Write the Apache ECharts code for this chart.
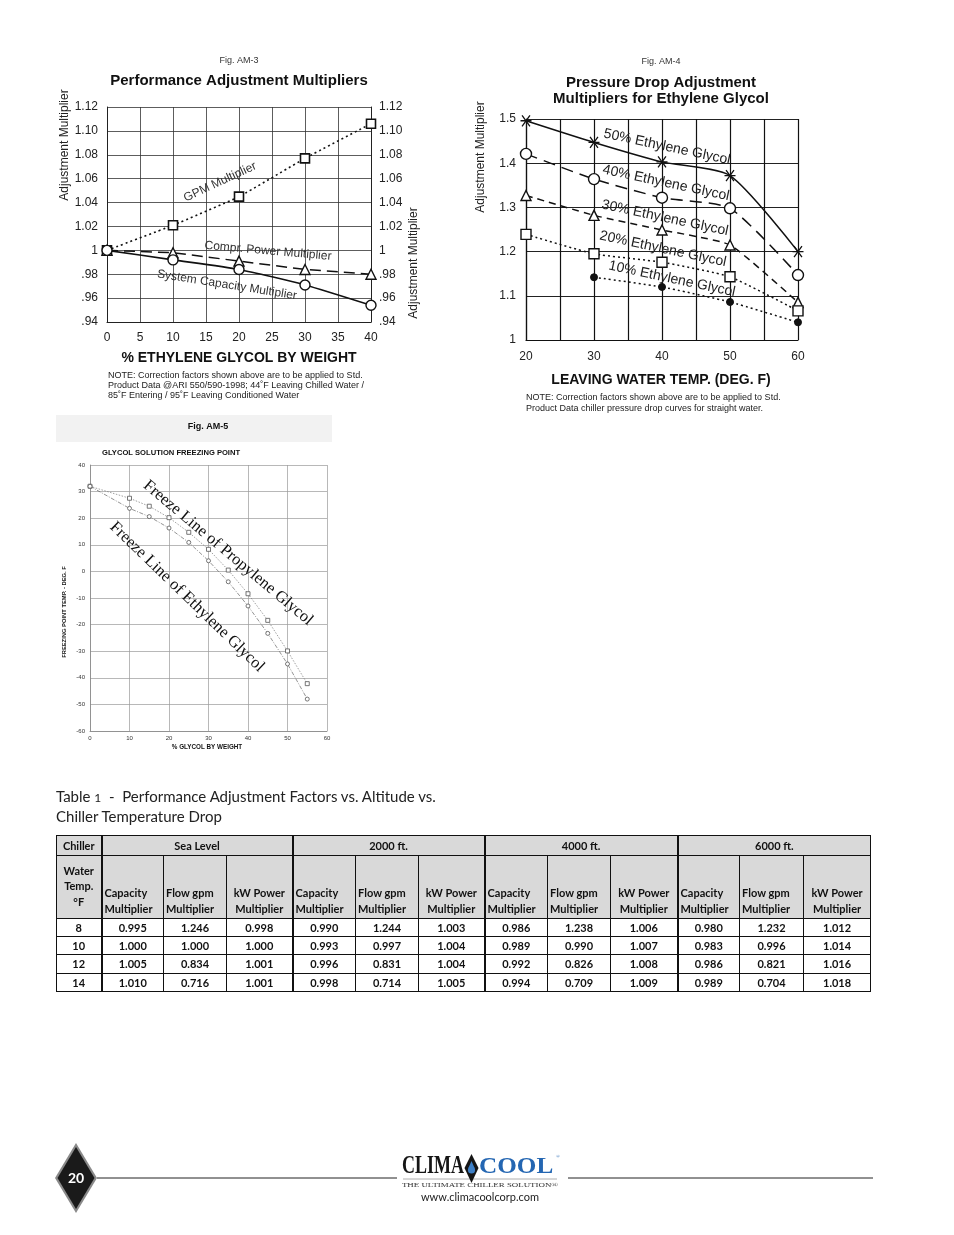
<!DOCTYPE html>
<html><head><meta charset="utf-8">
<script src="https://cdn.jsdelivr.net/npm/echarts@6/dist/echarts.min.js"></script>
<style>
html,body{margin:0;padding:0;background:#fff;}
#chart{position:absolute;left:0;top:0;width:954px;height:1235px;}
#cap{position:absolute;left:56px;top:787px;font-family:Lato,'Open Sans',sans-serif;font-size:15px;line-height:19px;color:#222;}
#cap .n{font-size:12px;}
#tbl{position:absolute;left:56px;top:835px;width:814px;border-collapse:collapse;table-layout:fixed;font-family:Lato,'Open Sans',sans-serif;font-weight:bold;font-size:11px;color:#111;border:1.5px solid #111;}
#tbl td{border:1px solid #111;padding:0 2px;overflow:hidden;white-space:nowrap;}
#tbl tr.h td{background:#d9d9d9;}
#tbl tr.h1 td{height:19px;text-align:center;vertical-align:middle;}
#tbl tr.h2 td{height:60px;vertical-align:bottom;line-height:15.5px;padding-bottom:2px;}
#tbl tr.h2 td.l{text-align:left;}
#tbl tr.h2 td.c{text-align:center;}
#tbl tr.h2 td.w{text-align:center;vertical-align:middle;}
#tbl tr.d td{height:17.2px;text-align:center;vertical-align:middle;background:#fff;}
#tbl td.g{border-left:2px solid #111;}
</style></head>
<body>
<div id="chart"></div>
<div id="cap">Table <span class="n">1</span>&nbsp; -&nbsp; Performance Adjustment Factors vs. Altitude vs.<br>Chiller Temperature Drop</div>
<table id="tbl"></table>
<script>
// ---------- Fig. AM-3 data ----------
const am3X = [0, 10, 20, 30, 40];
const am3Gpm = [1.000, 1.021, 1.045, 1.077, 1.106];
const am3Power = [1.000, 0.998, 0.991, 0.984, 0.980];
const am3Capacity = [1.000, 0.992, 0.984, 0.971, 0.954];
const am3YTicks = ['.94', '.96', '.98', '1', '1.02', '1.04', '1.06', '1.08', '1.10', '1.12'];

// ---------- Fig. AM-4 data ----------
const am4X = [20, 30, 40, 50, 60];
const am4G50 = [1.496, 1.447, 1.403, 1.372, 1.200];
const am4G40 = [1.421, 1.364, 1.322, 1.298, 1.147];
const am4G30 = [1.327, 1.282, 1.249, 1.215, 1.085];
const am4G20 = [1.239, 1.195, 1.176, 1.143, 1.066];
const am4G10X = [30, 40, 50, 60];
const am4G10 = [1.142, 1.120, 1.086, 1.040];
const am4YTicks = ['1', '1.1', '1.2', '1.3', '1.4', '1.5'];
const am4XTicks = ['20', '30', '40', '50', '60'];

// ---------- Fig. AM-5 data ----------
const am5X = [0, 10, 15, 20, 25, 30, 35, 40, 45, 50, 55];
const am5Propylene = [32, 27.5, 24.5, 20.2, 14.7, 8.3, 0.5, -8.4, -18.4, -29.9, -42.2];
const am5Ethylene = [32, 23.7, 20.6, 16.3, 10.9, 4.0, -3.9, -13, -23.3, -34.8, -48];

// ---------- Table 1 data ----------
const tblGroups = ['Sea Level', '2000 ft.', '4000 ft.', '6000 ft.'];
const tblSubHeads = [['Capacity', 'Multiplier'], ['Flow gpm', 'Multiplier'], ['kW Power', 'Multiplier']];
const tblTemps = [8, 10, 12, 14];
const tblSea = [[0.995, 1.246, 0.998], [1.000, 1.000, 1.000], [1.005, 0.834, 1.001], [1.010, 0.716, 1.001]];
const tbl2000 = [[0.990, 1.244, 1.003], [0.993, 0.997, 1.004], [0.996, 0.831, 1.004], [0.998, 0.714, 1.005]];
const tbl4000 = [[0.986, 1.238, 1.006], [0.989, 0.990, 1.007], [0.992, 0.826, 1.008], [0.994, 0.709, 1.009]];
const tbl6000 = [[0.980, 1.232, 1.012], [0.983, 0.996, 1.014], [0.986, 0.821, 1.016], [0.989, 0.704, 1.018]];

// ---------- build table ----------
(function () {
  const widths = [45, 62, 63, 66, 63, 63, 66, 63, 63, 67, 62, 64, 67];
  let h = '<colgroup>' + widths.map(w => '<col style="width:' + w + 'px">').join('') + '</colgroup>';
  h += '<tr class="h h1"><td>Chiller</td>' + tblGroups.map(g => '<td class="g" colspan="3">' + g + '</td>').join('') + '</tr>';
  h += '<tr class="h h2"><td class="w">Water<br>Temp.<br>°F</td>';
  tblGroups.forEach(() => {
    tblSubHeads.forEach((s, j) => {
      h += '<td class="' + (j === 0 ? 'g ' : '') + (j === 2 ? 'c' : 'l') + '">' + s[0] + '<br>' + s[1] + '</td>';
    });
  });
  h += '</tr>';
  const groups = [tblSea, tbl2000, tbl4000, tbl6000];
  tblTemps.forEach((t, i) => {
    h += '<tr class="d"><td>' + t + '</td>';
    groups.forEach(g => g[i].forEach((v, j) => {
      h += '<td' + (j === 0 ? ' class="g"' : '') + '>' + v.toFixed(3) + '</td>';
    }));
    h += '</tr>';
  });
  document.getElementById('tbl').innerHTML = h;
})();

// ---------- chart ----------
const SANS = 'Liberation Sans, Arial, sans-serif';
const NARROW = 'Liberation Sans Narrow, Liberation Sans, sans-serif';
const SERIF = 'Liberation Serif, Times New Roman, serif';

function txt(x, y, text, o) {
  o = o || {};
  return {
    type: 'text', x: x, y: y, rotation: o.rot || 0, scaleX: o.sx || 1, scaleY: 1, z: 100,
    style: {
      text: text, fontSize: o.size || 12, fontFamily: o.family || SANS, fontWeight: o.weight || 'normal',
      fill: o.color || '#222', textAlign: o.align || 'center', textVerticalAlign: o.valign || 'middle'
    }
  };
}
const deg = d => d * Math.PI / 180;
const pairs = (xs, ys) => xs.map((x, i) => [x, ys[i]]);

const option = {
  animation: false,
  backgroundColor: '#fff',
  grid: [
    { left: 107, top: 107, width: 264, height: 215 },
    { left: 526, top: 119, width: 272, height: 221 },
    { left: 90, top: 465, width: 237, height: 266 }
  ],
  xAxis: [
    { gridIndex: 0, type: 'value', min: 0, max: 40, interval: 5,
      axisLine: { show: true, onZero: false, lineStyle: { color: '#222', width: 1 } }, axisTick: { show: false },
      splitLine: { show: true, lineStyle: { color: '#333', width: 0.8 } },
      axisLabel: { fontSize: 12, color: '#222', fontFamily: SANS, margin: 10 } },
    { gridIndex: 1, type: 'value', min: 20, max: 60, interval: 5,
      axisLine: { show: true, onZero: false, lineStyle: { color: '#111', width: 1.2 } }, axisTick: { show: false },
      splitLine: { show: true, lineStyle: { color: '#111', width: 1.2 } },
      axisLabel: { fontSize: 12, color: '#222', fontFamily: SANS, margin: 11,
        formatter: v => (v % 10 === 0 ? am4XTicks[(v - 20) / 10] : '') } },
    { gridIndex: 2, type: 'value', min: 0, max: 60, interval: 10,
      axisLine: { show: true, onZero: false, lineStyle: { color: '#888', width: 0.8 } }, axisTick: { show: false },
      splitLine: { show: true, lineStyle: { color: '#999', width: 0.7 } },
      axisLabel: { fontSize: 6, color: '#333', fontFamily: SANS, margin: 4 } }
  ],
  yAxis: [
    { gridIndex: 0, type: 'value', min: 0.94, max: 1.12, interval: 0.02,
      axisLine: { show: true, onZero: false, lineStyle: { color: '#222', width: 1 } }, axisTick: { show: false },
      splitLine: { show: true, lineStyle: { color: '#333', width: 0.8 } },
      axisLabel: { fontSize: 12, color: '#222', fontFamily: SANS, margin: 9,
        formatter: v => am3YTicks[Math.round((v - 0.94) / 0.02)] } },
    { gridIndex: 0, type: 'value', min: 0.94, max: 1.12, interval: 0.02, position: 'right',
      axisLine: { show: true, onZero: false, lineStyle: { color: '#222', width: 1 } }, axisTick: { show: false },
      splitLine: { show: false },
      axisLabel: { fontSize: 12, color: '#222', fontFamily: SANS, margin: 8,
        formatter: v => am3YTicks[Math.round((v - 0.94) / 0.02)] } },
    { gridIndex: 1, type: 'value', min: 1, max: 1.5, interval: 0.1,
      axisLine: { show: true, onZero: false, lineStyle: { color: '#111', width: 1.2 } }, axisTick: { show: false },
      splitLine: { show: true, lineStyle: { color: '#222', width: 1.2 } },
      axisLabel: { fontSize: 12, color: '#222', fontFamily: SANS, margin: 10,
        formatter: v => am4YTicks[Math.round((v - 1) / 0.1)] } },
    { gridIndex: 2, type: 'value', min: -60, max: 40, interval: 10,
      axisLine: { show: true, onZero: false, lineStyle: { color: '#888', width: 0.8 } }, axisTick: { show: false },
      splitLine: { show: true, lineStyle: { color: '#999', width: 0.7 } },
      axisLabel: { fontSize: 6, color: '#333', fontFamily: SANS, margin: 5 } }
  ],
  series: [
    // AM-3
    { type: 'line', name: 'GPM Multiplier', xAxisIndex: 0, yAxisIndex: 0, data: pairs(am3X, am3Gpm),
      smooth: 0.15, symbol: 'rect', symbolSize: 9,
      lineStyle: { color: '#111', width: 1.6, type: [2, 3] },
      itemStyle: { color: '#fff', borderColor: '#111', borderWidth: 1.6 }, z: 3 },
    { type: 'line', name: 'Compr. Power Multiplier', xAxisIndex: 0, yAxisIndex: 0, data: pairs(am3X, am3Power),
      smooth: false, symbol: 'triangle', symbolSize: 10,
      lineStyle: { color: '#111', width: 1.5, type: [11, 6] },
      itemStyle: { color: '#fff', borderColor: '#111', borderWidth: 1.4 }, z: 3 },
    { type: 'line', name: 'System Capacity Multiplier', xAxisIndex: 0, yAxisIndex: 0, data: pairs(am3X, am3Capacity),
      smooth: 0.2, symbol: 'circle', symbolSize: 10,
      lineStyle: { color: '#111', width: 1.6, type: 'solid' },
      itemStyle: { color: '#fff', borderColor: '#111', borderWidth: 1.4 }, z: 3 },
    // AM-4
    { type: 'line', name: '50%', xAxisIndex: 1, yAxisIndex: 2, data: pairs(am4X, am4G50),
      smooth: 0.22, symbol: 'path://M-5,0L5,0M-3.6,-4.6L3.6,4.6M-3.6,4.6L3.6,-4.6', symbolSize: 11,
      lineStyle: { color: '#111', width: 1.5, type: 'solid' },
      itemStyle: { color: 'none', borderColor: '#111', borderWidth: 1.3 }, z: 3 },
    { type: 'line', name: '40%', xAxisIndex: 1, yAxisIndex: 2, data: pairs(am4X, am4G40),
      smooth: 0.2, symbol: 'circle', symbolSize: 11,
      lineStyle: { color: '#111', width: 1.5, type: [12, 7] },
      itemStyle: { color: '#fff', borderColor: '#111', borderWidth: 1.4 }, z: 3 },
    { type: 'line', name: '30%', xAxisIndex: 1, yAxisIndex: 2, data: pairs(am4X, am4G30),
      smooth: 0.15, symbol: 'triangle', symbolSize: 10,
      lineStyle: { color: '#111', width: 1.5, type: [7, 5] },
      itemStyle: { color: '#fff', borderColor: '#111', borderWidth: 1.4 }, z: 3 },
    { type: 'line', name: '20%', xAxisIndex: 1, yAxisIndex: 2, data: pairs(am4X, am4G20),
      smooth: 0.15, symbol: 'rect', symbolSize: 10,
      lineStyle: { color: '#111', width: 1.5, type: [2, 3] },
      itemStyle: { color: '#fff', borderColor: '#111', borderWidth: 1.4 }, z: 3 },
    { type: 'line', name: '10%', xAxisIndex: 1, yAxisIndex: 2, data: pairs(am4G10X, am4G10),
      smooth: 0.15, symbol: 'circle', symbolSize: 7,
      lineStyle: { color: '#111', width: 1.5, type: [2, 3] },
      itemStyle: { color: '#111', borderColor: '#111', borderWidth: 1 }, z: 3 },
    // AM-5
    { type: 'line', name: 'Propylene', xAxisIndex: 2, yAxisIndex: 3, data: pairs(am5X, am5Propylene),
      symbol: 'rect', symbolSize: 4,
      lineStyle: { color: '#777', width: 0.7, type: [1.5, 1.5] },
      itemStyle: { color: '#fff', borderColor: '#555', borderWidth: 0.8 }, z: 3 },
    { type: 'line', name: 'Ethylene', xAxisIndex: 2, yAxisIndex: 3, data: pairs(am5X, am5Ethylene),
      symbol: 'circle', symbolSize: 4,
      lineStyle: { color: '#666', width: 0.7, type: [4, 1.5, 1, 1.5] },
      itemStyle: { color: '#fff', borderColor: '#555', borderWidth: 0.8 }, z: 3 }
  ],
  graphic: [
    // AM-3 texts
    txt(239, 61, 'Fig. AM-3', { size: 9, color: '#333' }),
    txt(239, 81, 'Performance Adjustment Multipliers', { size: 15, weight: 'bold', color: '#111' }),
    txt(65, 145, 'Adjustment Multiplier', { size: 12, rot: deg(90) }),
    txt(414, 263, 'Adjustment Multiplier', { size: 12, rot: deg(90) }),
    txt(239, 358, '% ETHYLENE GLYCOL BY WEIGHT', { size: 14, weight: 'bold', color: '#111' }),
    txt(108, 376, 'NOTE: Correction factors shown above are to be applied to Std.', { size: 9, align: 'left' }),
    txt(108, 386, 'Product Data @ARI 550/590-1998; 44˚F Leaving Chilled Water /', { size: 9, align: 'left' }),
    txt(108, 396, '85˚F Entering / 95˚F Leaving Conditioned Water', { size: 9, align: 'left' }),
    txt(220, 182, 'GPM Multiplier', { size: 12, rot: deg(25), color: '#333' }),
    txt(268, 251, 'Compr. Power Multiplier', { size: 12, rot: deg(-5), color: '#333' }),
    txt(227, 285, 'System Capacity Multiplier', { size: 12, rot: deg(-9), color: '#333' }),
    // AM-4 texts
    txt(661, 62, 'Fig. AM-4', { size: 9, color: '#333' }),
    txt(661, 83, 'Pressure Drop Adjustment', { size: 15, weight: 'bold', color: '#111' }),
    txt(661, 99, 'Multipliers for Ethylene Glycol', { size: 15, weight: 'bold', color: '#111' }),
    txt(481, 157, 'Adjustment Multiplier', { size: 12, rot: deg(90) }),
    txt(661, 380, 'LEAVING WATER TEMP. (DEG. F)', { size: 14, weight: 'bold', color: '#111' }),
    txt(526, 398, 'NOTE: Correction factors shown above are to be applied to Std.', { size: 9, align: 'left' }),
    txt(526, 409, 'Product Data chiller pressure drop curves for straight water.', { size: 9, align: 'left' }),
    txt(667, 147, '50% Ethylene Glycol', { size: 14, rot: deg(-12), color: '#222' }),
    txt(666, 183, '40% Ethylene Glycol', { size: 14, rot: deg(-12), color: '#222' }),
    txt(665, 218, '30% Ethylene Glycol', { size: 14, rot: deg(-12), color: '#222' }),
    txt(663, 249, '20% Ethylene Glycol', { size: 14, rot: deg(-12), color: '#222' }),
    txt(672, 279, '10% Ethylene Glycol', { size: 14, rot: deg(-12), color: '#222' }),
    // AM-5 texts and band
    { type: 'rect', shape: { x: 56, y: 415, width: 276, height: 27 }, style: { fill: '#f2f2f2' }, z: 1 },
    txt(208, 427, 'Fig. AM-5', { size: 9, weight: 'bold', family: NARROW, color: '#111' }),
    txt(102, 453, 'GLYCOL SOLUTION FREEZING POINT', { size: 7.6, weight: 'bold', align: 'left', color: '#111' }),
    txt(64, 612, 'FREEZING POINT TEMP. - DEG. F', { size: 5.8, weight: 'bold', family: NARROW, rot: deg(90), color: '#111' }),
    txt(207, 747, '% GLYCOL BY WEIGHT', { size: 6.3, weight: 'bold', color: '#111' }),
    txt(228, 553, 'Freeze Line of Propylene Glycol', { size: 16.5, family: SERIF, rot: deg(-40), color: '#111' }),
    txt(187, 597, 'Freeze Line of Ethylene Glycol', { size: 16.5, family: SERIF, rot: deg(-44), color: '#111' }),
    // footer
    { type: 'polygon', shape: { points: [[76, 1143], [97, 1178], [76, 1213], [55, 1178]] }, style: { fill: '#8a8a8a' }, z: 5 },
    { type: 'polygon', shape: { points: [[76, 1147], [94.5, 1178], [76, 1209], [57.5, 1178]] }, style: { fill: '#1a1a1a' }, z: 6 },
    txt(76, 1178, '20', { size: 14, weight: 'bold', color: '#fff', family: 'Lato, sans-serif' }),
    { type: 'line', shape: { x1: 97, y1: 1178, x2: 397, y2: 1178 }, style: { stroke: '#222', lineWidth: 1 }, z: 5 },
    { type: 'line', shape: { x1: 568, y1: 1178, x2: 873, y2: 1178 }, style: { stroke: '#222', lineWidth: 1 }, z: 5 },
    { type: 'line', shape: { x1: 403, y1: 1179, x2: 557, y2: 1179 }, style: { stroke: '#999', lineWidth: 0.8 }, z: 5 },
    txt(464, 1167, 'CLIMA', { size: 25, weight: 'bold', family: SERIF, color: '#151515', align: 'right', sx: 0.72 }),
    { type: 'polygon', shape: { points: [[471.5, 1154], [478.5, 1168], [471.5, 1183], [464.5, 1168]] }, style: { fill: '#151515' }, z: 6 },
    { type: 'circle', shape: { cx: 471.5, cy: 1170, r: 3.6 }, style: { fill: '#3d7fc6' }, z: 7 },
    { type: 'polygon', shape: { points: [[471.5, 1161], [474.6, 1168], [468.4, 1168]] }, style: { fill: '#3d7fc6' }, z: 7 },
    txt(479, 1167, 'COOL', { size: 24, weight: 'bold', family: SERIF, color: '#2466b2', align: 'left', sx: 1.05 }),
    txt(556, 1157, '®', { size: 5, family: SERIF, color: '#2466b2', align: 'left' }),
    txt(480, 1185, 'THE ULTIMATE CHILLER SOLUTION®', { size: 6, family: SERIF, color: '#333', sx: 1.48 }),
    txt(480, 1197, 'www.climacoolcorp.com', { size: 11, family: 'Lato, Open Sans, sans-serif', color: '#222' })
  ]
};

const chart = echarts.init(document.getElementById('chart'), null, { renderer: 'canvas', width: 954, height: 1235 });
chart.setOption(option);
</script>
</body></html>
